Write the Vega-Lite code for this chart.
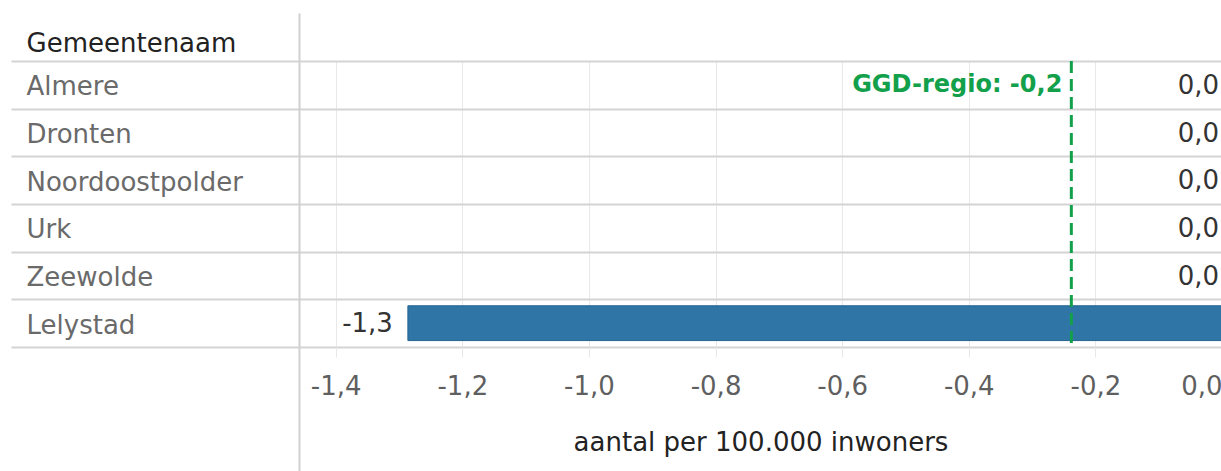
{
  "$schema": "https://vega.github.io/schema/vega-lite/v6.json",
  "width": 923,
  "height": 286,
  "autosize": {"type": "pad"},
  "padding": {"left": 10, "top": 12, "right": 0, "bottom": 0},
  "background": "white",
  "config": {"font": "DejaVu Sans", "view": {"stroke": null}},
  "datasets": {
    "gemeenten": [
      {"name": "Almere", "value": 0, "label": "0,0"},
      {"name": "Dronten", "value": 0, "label": "0,0"},
      {"name": "Noordoostpolder", "value": 0, "label": "0,0"},
      {"name": "Urk", "value": 0, "label": "0,0"},
      {"name": "Zeewolde", "value": 0, "label": "0,0"},
      {"name": "Lelystad", "value": -1.286, "label": "-1,3"}
    ],
    "regio": [
      {"name": "Almere", "value": -0.238, "label": "GGD-regio: -0,2"}
    ]
  },
  "resolve": {"axis": {"x": "independent"}},
  "layer": [
    {
      "data": {"name": "gemeenten"},
      "mark": {"type": "bar", "height": {"band": 0.73}, "fill": "#2f76a7", "stroke": "#27648f", "strokeWidth": 1},
      "encoding": {
        "y": {
          "field": "name", "type": "nominal", "title": "Gemeentenaam",
          "sort": ["Almere", "Dronten", "Noordoostpolder", "Urk", "Zeewolde", "Lelystad"],
          "scale": {"paddingInner": 0, "paddingOuter": 0},
          "axis": {
            "orient": "left",
            "tickBand": "extent",
            "ticks": true, "tickSize": 288, "tickColor": "#d4d4d4", "tickWidth": 2,
            "grid": true, "gridColor": "#d4d4d4", "gridWidth": 2,
            "domain": true, "domainColor": "#d0d0d0", "domainWidth": 2,
            "labelAlign": "left", "labelBaseline": "middle", "labelPadding": -15,
            "labelOffset": 2, "labelLimit": 300,
            "labelFontSize": 26, "labelColor": "#6a6a6a",
            "titleAngle": 0, "titleAlign": "left", "titleBaseline": "alphabetic",
            "titleX": -273, "titleY": -10, "titleFontSize": 26, "titleFontWeight": "normal",
            "titleColor": "#222222"
          }
        },
        "x": {
          "field": "value", "type": "quantitative", "title": "aantal per 100.000 inwoners",
          "scale": {"domain": [-1.458, 0], "nice": false, "zero": false},
          "axis": {
            "orient": "bottom",
            "values": [-1.4, -1.2, -1.0, -0.8, -0.6, -0.4, -0.2, 0],
            "labelExpr": "replace(replace(format(datum.value, '.1f'), '.', ','), '\u2212', '-')",
            "grid": true, "gridColor": "#e8e8e8", "gridWidth": 1,
            "ticks": true, "tickSize": 10, "tickColor": "#e8e8e8",
            "domain": false,
            "labelFontSize": 26, "labelColor": "#5f5f5f", "labelPadding": 16,
            "labelFlush": 5,
            "titleFontSize": 26, "titleFontWeight": "normal", "titleColor": "#222222",
            "titlePadding": 30
          }
        }
      }
    },
    {
      "data": {"name": "regio"},
      "mark": {"type": "rule", "stroke": "#12a04a", "strokeWidth": 3, "strokeDash": [12, 6]},
      "encoding": {
        "x": {
          "field": "value", "type": "quantitative",
          "axis": {
            "orient": "top", "values": [-1.458], "title": null,
            "labels": false, "domain": false, "grid": false,
            "ticks": true, "tickSize": 48, "tickColor": "#d0d0d0", "tickWidth": 2
          }
        }
      }
    },
    {
      "data": {"name": "regio"},
      "mark": {"type": "text", "align": "right", "baseline": "middle", "dx": -9, "dy": 0, "fontSize": 24, "fontWeight": "bold", "fill": "#12a04a"},
      "encoding": {
        "y": {"field": "name", "type": "nominal", "title": "Gemeentenaam", "sort": ["Almere", "Dronten", "Noordoostpolder", "Urk", "Zeewolde", "Lelystad"]},
        "x": {
          "field": "value", "type": "quantitative",
          "axis": {
            "orient": "bottom", "values": [-1.458], "title": null,
            "labels": false, "domain": false, "grid": false,
            "ticks": true, "tickSize": 125, "tickColor": "#d0d0d0", "tickWidth": 2
          }
        },
        "text": {"field": "label"}
      }
    },
    {
      "data": {"name": "gemeenten"},
      "transform": [{"filter": "datum.value === 0"}],
      "mark": {"type": "text", "align": "right", "baseline": "middle", "dx": -3, "dy": 1, "fontSize": 26, "fill": "#333333"},
      "encoding": {
        "y": {"field": "name", "type": "nominal", "title": "Gemeentenaam", "sort": ["Almere", "Dronten", "Noordoostpolder", "Urk", "Zeewolde", "Lelystad"]},
        "x": {"field": "value", "type": "quantitative", "axis": null},
        "text": {"field": "label"}
      }
    },
    {
      "data": {"name": "gemeenten"},
      "transform": [{"filter": "datum.value < 0"}],
      "mark": {"type": "text", "align": "right", "baseline": "middle", "dx": -15, "dy": 1, "fontSize": 26, "fill": "#333333"},
      "encoding": {
        "y": {"field": "name", "type": "nominal", "title": "Gemeentenaam", "sort": ["Almere", "Dronten", "Noordoostpolder", "Urk", "Zeewolde", "Lelystad"]},
        "x": {"field": "value", "type": "quantitative", "axis": null},
        "text": {"field": "label"}
      }
    }
  ]
}
